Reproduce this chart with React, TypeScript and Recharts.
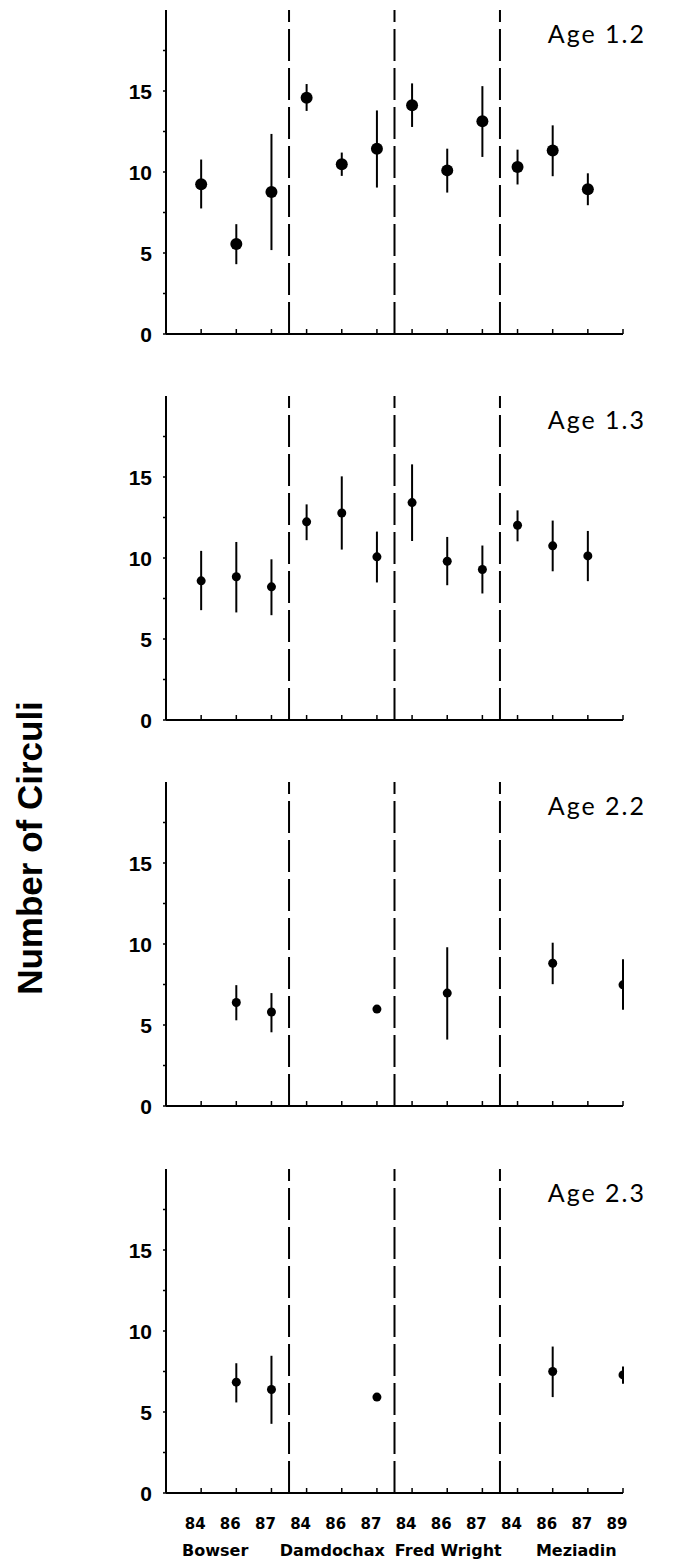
import React from 'react';
import { ScatterChart, Scatter, XAxis, YAxis, ErrorBar, ReferenceLine } from 'recharts';

// sample years along the x axis (positions 1..13)
const years = ['84', '86', '87', '84', '86', '87', '84', '86', '87', '84', '86', '87', '89'];
const groups = ['Bowser', 'Damdochax', 'Fred Wright', 'Meziadin'];
const groupPos = [1.4, 4.73, 8.03, 11.67];
const dividers = [3.5, 6.5, 9.5];
const yTicks = [0, 2.5, 5, 7.5, 10, 12.5, 15, 17.5];

const age12Mean = [9.25, 5.55, 8.77, 14.59, 10.48, 11.44, 14.12, 10.1, 13.13, 10.31, 11.32, 8.94, null];
const age12Low = [7.75, 4.31, 5.18, 13.77, 9.76, 9.04, 12.78, 8.73, 10.93, 9.23, 9.74, 7.95, null];
const age12High = [10.77, 6.78, 12.35, 15.43, 11.2, 13.8, 15.47, 11.44, 15.3, 11.38, 12.88, 9.92, null];

const age13Mean = [8.59, 8.84, 8.22, 12.23, 12.78, 10.07, 13.42, 9.8, 9.29, 12.02, 10.75, 10.13, null];
const age13Low = [6.78, 6.64, 6.47, 11.1, 10.52, 8.49, 11.05, 8.32, 7.81, 11.03, 9.18, 8.57, null];
const age13High = [10.44, 10.99, 9.92, 13.31, 15.04, 11.63, 15.78, 11.3, 10.77, 12.94, 12.31, 11.67, null];

const age22Mean = [null, 6.39, 5.8, null, null, 5.98, null, 6.97, null, null, 8.81, null, 7.48];
const age22Low = [null, 5.29, 4.55, null, null, 5.98, null, 4.1, null, null, 7.52, null, 5.94];
const age22High = [null, 7.46, 6.97, null, null, 5.98, null, 9.8, null, null, 10.08, null, 9.06];

const age23Mean = [null, 6.84, 6.39, null, null, 5.92, null, null, null, null, 7.5, null, 7.29];
const age23Low = [null, 5.59, 4.27, null, null, 5.92, null, null, null, null, 5.92, null, 6.74];
const age23High = [null, 8.01, 8.47, null, null, 5.92, null, null, null, null, 9.04, null, 7.81];

const PLOT_H = 324;

const YTick = (props: any) => {
  const { x, y, payload } = props;
  const v = payload.value;
  return (
    <g>
      <line x1={x - 3} x2={x} y1={y} y2={y} stroke="#000" strokeWidth={1.5} />
      {v % 5 === 0 ? (
        <text x={x - 14} y={y} textAnchor="end" dominantBaseline="central"
          style={{ fontFamily: 'Liberation Sans, Arial', fontWeight: 'bold', fontSize: 21 }} fill="#000">
          {v}
        </text>
      ) : null}
    </g>
  );
};

const XTick = (props: any) => {
  const { x, y, payload, showLabel } = props;
  return (
    <g>
      <line x1={x} x2={x} y1={y} y2={y - 5} stroke="#000" strokeWidth={1.5} />
      {showLabel ? (
        <text x={x - 6} y={y + 36} textAnchor="middle"
          style={{ fontFamily: 'DejaVu Sans', fontWeight: 'bold', fontSize: 15 }} fill="#000">
          {years[payload.value - 1]}
        </text>
      ) : null}
    </g>
  );
};

// group name drawn under a blank reference line placed at the group's centre
const GroupLabel = (props: any) => {
  const { viewBox, name } = props;
  return (
    <text x={viewBox.x} y={viewBox.y + viewBox.height + 63} textAnchor="middle"
      style={{ fontFamily: 'DejaVu Sans', fontWeight: 'bold', fontSize: 16 }} fill="#000">
      {name}
    </text>
  );
};

interface PanelProps {
  top: number;
  mean: (number | null)[];
  low: (number | null)[];
  high: (number | null)[];
  r: number;
  last?: boolean;
}

const Panel: React.FC<PanelProps> = ({ top, mean, low, high, r, last }) => {
  const data = mean
    .map((m, i) => (m == null ? null : { x: i + 1, y: m, err: [m - (low[i] as number), (high[i] as number) - m] }))
    .filter(Boolean);
  const xH = last ? 80 : 16;
  return (
    <div style={{ position: 'absolute', left: 0, top: top - 10 }}>
      <ScatterChart width={675} height={10 + PLOT_H + xH} margin={{ top: 10, right: 52, bottom: 0, left: 126 }}>
        <XAxis type="number" dataKey="x" domain={[0, 13]} ticks={years.map((_, i) => i + 1)} allowDataOverflow
          height={xH} tickSize={0} tickMargin={0} tickLine={false}
          axisLine={{ stroke: '#000', strokeWidth: 2 }}
          tick={(p: any) => <XTick {...p} showLabel={last} />} interval={0} />
        <YAxis type="number" dataKey="y" domain={[0, 20]} ticks={yTicks} width={40} interval={0}
          tickSize={0} tickMargin={0} tickLine={false}
          axisLine={{ stroke: '#000', strokeWidth: 2 }}
          tick={(p: any) => <YTick {...p} />} />
        {dividers.map((d) => (
          <ReferenceLine key={d} x={d} stroke="#000" strokeWidth={2} strokeDasharray="32 7" />
        ))}
        {last
          ? groups.map((g, i) => (
              <ReferenceLine key={g} x={groupPos[i]} stroke="none" label={<GroupLabel name={g} />} />
            ))
          : null}
        <Scatter data={data as any[]} fill="#000" isAnimationActive={false}
          shape={(p: any) => <circle cx={p.cx} cy={p.cy} r={r} fill="#000" />}>
          <ErrorBar dataKey="err" direction="y" width={0} stroke="#000" strokeWidth={2} isAnimationActive={false} />
        </Scatter>
      </ScatterChart>
    </div>
  );
};

const panelTops = [10, 396, 782, 1169];
const ageLabels = ['Age 1.2', 'Age 1.3', 'Age 2.2', 'Age 2.3'];

export default function App() {
  return (
    <div style={{ position: 'absolute', left: 0, top: 0, width: 675, height: 1566, background: '#fff' }}>
      <Panel top={panelTops[0]} mean={age12Mean} low={age12Low} high={age12High} r={6} />
      <Panel top={panelTops[1]} mean={age13Mean} low={age13Low} high={age13High} r={4.5} />
      <Panel top={panelTops[2]} mean={age22Mean} low={age22Low} high={age22High} r={4.5} />
      <Panel top={panelTops[3]} mean={age23Mean} low={age23Low} high={age23High} r={4.5} last />
      <svg width={675} height={1566} style={{ position: 'absolute', left: 0, top: 0, pointerEvents: 'none' }}>
        {ageLabels.map((t, i) => (
          <text key={t} x={646} y={panelTops[i] + 33} textAnchor="end"
            style={{ fontFamily: 'Lato', fontSize: 25, letterSpacing: 2 }} fill="#000">
            {t}
          </text>
        ))}
        <text transform="translate(29,848) rotate(-90)" textAnchor="middle" dominantBaseline="central"
          style={{ fontFamily: 'Liberation Sans, Arial', fontWeight: 'bold', fontSize: 35 }} fill="#000">
          Number of Circuli
        </text>
      </svg>
    </div>
  );
}
